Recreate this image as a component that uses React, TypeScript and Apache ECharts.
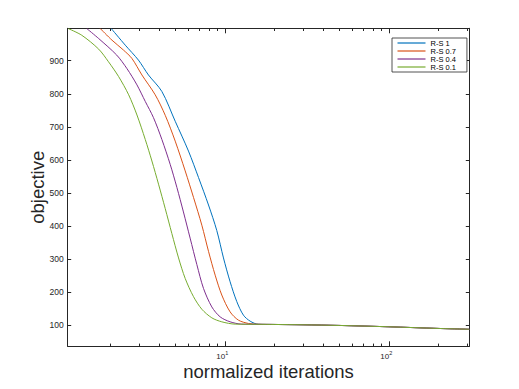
import React, { useEffect, useRef } from 'react';
import * as echarts from 'echarts';

// R-S 1 (blue)
const rs1Iter = [2.03, 2.47, 2.97, 3.42, 4.13, 4.98, 6.0, 6.91, 7.95, 8.93, 9.81, 10.77, 11.83, 12.99, 14.27];
const rs1Obj = [997, 947, 902, 857, 807, 717, 627, 547, 464, 387, 304, 232, 172, 131, 113];
// R-S 0.7 (orange)
const rs07Iter = [1.74, 2.05, 2.41, 2.71, 3.12, 3.76, 4.33, 4.98, 5.73, 6.44, 7.24, 7.95, 8.73, 9.58, 10.77, 12.11, 13.94];
const rs07Obj = [997, 962, 932, 907, 857, 797, 735, 657, 567, 487, 403, 324, 252, 192, 141, 116, 106];
// R-S 0.4 (purple)
const rs04Iter = [1.44, 1.7, 2.19, 2.53, 2.91, 3.27, 3.67, 4.13, 4.64, 5.1, 5.59, 6.14, 6.75, 7.41, 8.33, 9.36, 10.77, 12.69];
const rs04Obj = [997, 967, 917, 876, 827, 777, 728, 662, 587, 517, 443, 364, 284, 212, 156, 126, 111, 104];
// R-S 0.1 (green)
const rs01Iter = [1.11, 1.34, 1.7, 1.95, 2.25, 2.59, 2.91, 3.27, 3.59, 3.94, 4.33, 4.75, 5.22, 5.73, 6.44, 7.24, 8.33, 9.58, 11.56];
const rs01Obj = [997, 977, 935, 897, 852, 797, 736, 662, 597, 527, 453, 378, 304, 242, 187, 149, 123, 111, 104];
// shared slowly decreasing tail
const tailIter = [16, 20, 30, 50, 100, 200, 310];
const tailObj = [103.5, 103, 102, 100, 96, 91, 88.5];

const seriesNames = ['R-S 1', 'R-S 0.7', 'R-S 0.4', 'R-S 0.1'];
const seriesColors = ['#0072BD', '#D95319', '#7E2F8E', '#77AC30'];
const yTicks = [100, 200, 300, 400, 500, 600, 700, 800, 900];
const xMajorTicks = [10, 100];
const xMinorTicks = [2, 3, 4, 5, 6, 7, 8, 9, 20, 30, 40, 50, 60, 70, 80, 90, 200, 300];

const X_MIN = 1.1;
const X_MAX = 310;
const Y_MIN = 37;
const Y_MAX = 998;

const AXIS_COLOR = '#262626';

function pairs(xs: number[], ys: number[]) {
  const out: number[][] = xs.map((x, i) => [x, ys[i]]);
  tailIter.forEach((x, i) => out.push([x, tailObj[i]]));
  return out;
}

export default function App() {
  const ref = useRef<HTMLDivElement>(null);
  useEffect(() => {
    if (!ref.current) return;
    const chart = echarts.init(ref.current, undefined, { renderer: 'svg' });
    const allIter = [rs1Iter, rs07Iter, rs04Iter, rs01Iter];
    const allObj = [rs1Obj, rs07Obj, rs04Obj, rs01Obj];
    const baseX = { type: 'log', logBase: 10, min: X_MIN, max: X_MAX, splitLine: { show: false }, minorTick: { show: false } };
    const baseY = { type: 'value', min: Y_MIN, max: Y_MAX, splitLine: { show: false } };
    chart.setOption({
      animation: false,
      backgroundColor: '#ffffff',
      textStyle: { fontFamily: 'Liberation Sans' },
      grid: { left: 67.7, right: 49.7, top: 28.3, bottom: 42.7, containLabel: false },
      legend: {
        orient: 'vertical',
        left: 392,
        top: 38,
        padding: [1, 11, 1, 5.5],
        itemGap: 0,
        itemWidth: 28,
        itemHeight: 1.2,
        icon: 'rect',
        borderColor: AXIS_COLOR,
        borderWidth: 0.8,
        backgroundColor: '#ffffff',
        textStyle: { fontSize: 7.5, lineHeight: 8, color: '#000', fontFamily: 'Liberation Sans' },
        data: seriesNames,
      },
      xAxis: [
        {
          ...baseX,
          position: 'bottom',
          name: 'normalized iterations',
          nameLocation: 'middle',
          nameGap: 15.5,
          nameMoveOverlap: false,
          nameTextStyle: { fontSize: 18.5, color: AXIS_COLOR, fontFamily: 'Liberation Sans' },
          axisLine: { show: true, lineStyle: { color: AXIS_COLOR, width: 1 } },
          axisTick: { show: true, inside: true, length: 5, customValues: xMajorTicks, lineStyle: { color: AXIS_COLOR } },
          axisLabel: {
            show: true,
            margin: 4,
            customValues: xMajorTicks,
            formatter: (v: number) => `{b|10}{s|${Math.round(Math.log10(v))}}`,
            rich: {
              b: { fontSize: 8, color: AXIS_COLOR, fontFamily: 'Liberation Sans' },
              s: { fontSize: 5.5, color: AXIS_COLOR, padding: [0, 5, 5.5, 0], fontFamily: 'Liberation Sans' },
            },
          },
        },
        {
          ...baseX,
          position: 'bottom',
          axisLine: { show: false },
          axisTick: { show: true, inside: true, length: 2.7, customValues: xMinorTicks, lineStyle: { color: AXIS_COLOR } },
          axisLabel: { show: false },
        },
        {
          ...baseX,
          position: 'top',
          axisLine: { show: true, lineStyle: { color: AXIS_COLOR, width: 1 } },
          axisTick: { show: true, inside: true, length: 5, customValues: xMajorTicks, lineStyle: { color: AXIS_COLOR } },
          axisLabel: { show: false },
        },
        {
          ...baseX,
          position: 'top',
          axisLine: { show: false },
          axisTick: { show: true, inside: true, length: 2.7, customValues: xMinorTicks, lineStyle: { color: AXIS_COLOR } },
          axisLabel: { show: false },
        },
      ],
      yAxis: [
        {
          ...baseY,
          position: 'left',
          name: 'objective',
          nameLocation: 'middle',
          nameGap: 21,
          nameMoveOverlap: false,
          nameTextStyle: { fontSize: 18.5, color: AXIS_COLOR, fontFamily: 'Liberation Sans' },
          axisLine: { show: true, lineStyle: { color: AXIS_COLOR, width: 1 } },
          axisTick: { show: true, inside: true, length: 3.5, customValues: yTicks, lineStyle: { color: AXIS_COLOR } },
          axisLabel: { show: true, margin: 4, customValues: yTicks, fontSize: 8.5, color: AXIS_COLOR, fontFamily: 'Liberation Sans' },
        },
        {
          ...baseY,
          position: 'right',
          axisLine: { show: true, lineStyle: { color: AXIS_COLOR, width: 1 } },
          axisTick: { show: true, inside: true, length: 3.5, customValues: yTicks, lineStyle: { color: AXIS_COLOR } },
          axisLabel: { show: false },
        },
      ],
      series: seriesNames.map((name, i) => ({
        name,
        type: 'line',
        xAxisIndex: 0,
        yAxisIndex: 0,
        data: pairs(allIter[i], allObj[i]),
        smooth: 0.3,
        showSymbol: false,
        symbol: 'none',
        clip: true,
        color: seriesColors[i],
        lineStyle: { color: seriesColors[i], width: 1 },
      })),
    });
    return () => chart.dispose();
  }, []);
  return <div ref={ref} style={{ position: 'fixed', left: 0, top: 0, width: 519, height: 389 }} />;
}
